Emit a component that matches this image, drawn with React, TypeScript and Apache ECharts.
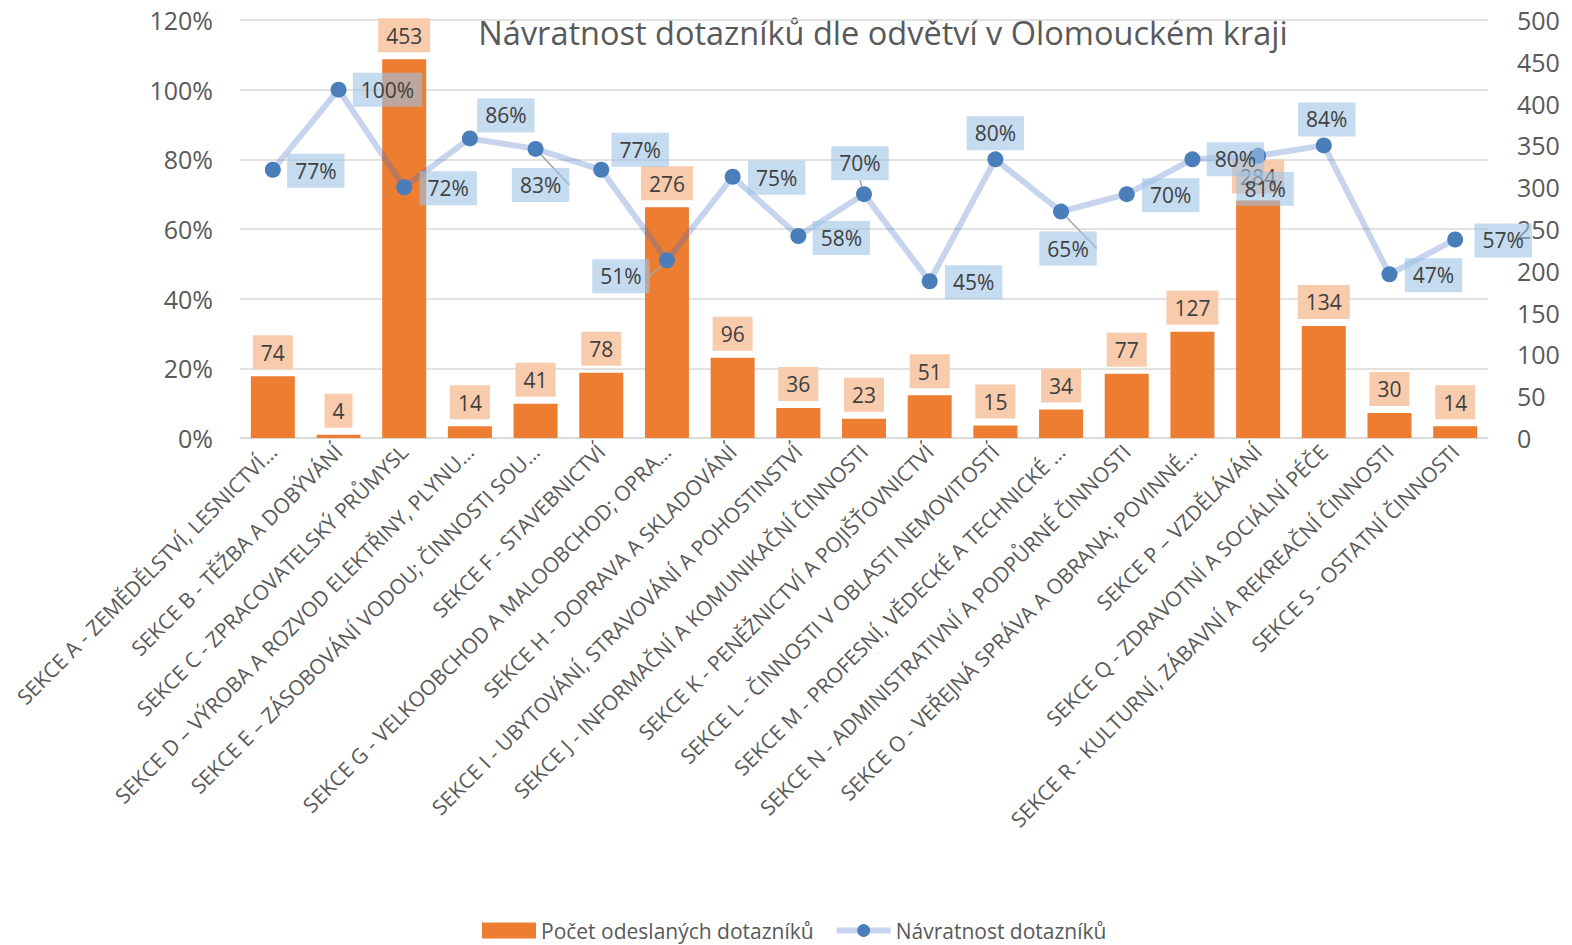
import React, { useEffect, useRef } from "react";
import * as echarts from "echarts";

const categories = [
  "SEKCE A - ZEMĚDĚLSTVÍ, LESNICTVÍ…",
  "SEKCE B - TĚŽBA A DOBÝVÁNÍ",
  "SEKCE C - ZPRACOVATELSKÝ PRŮMYSL",
  "SEKCE D – VÝROBA A ROZVOD ELEKTŘINY, PLYNU…",
  "SEKCE E – ZÁSOBOVÁNÍ VODOU; ČINNOSTI SOU…",
  "SEKCE F - STAVEBNICTVÍ",
  "SEKCE G - VELKOOBCHOD A MALOOBCHOD; OPRA…",
  "SEKCE H - DOPRAVA A SKLADOVÁNÍ",
  "SEKCE I - UBYTOVÁNÍ, STRAVOVÁNÍ A POHOSTINSTVÍ",
  "SEKCE J - INFORMAČNÍ A KOMUNIKAČNÍ ČINNOSTI",
  "SEKCE K - PENĚŽNICTVÍ A POJIŠŤOVNICTVÍ",
  "SEKCE L - ČINNOSTI V OBLASTI NEMOVITOSTÍ",
  "SEKCE M - PROFESNÍ, VĚDECKÉ A TECHNICKÉ …",
  "SEKCE N - ADMINISTRATIVNÍ A PODPŮRNÉ ČINNOSTI",
  "SEKCE O - VEŘEJNÁ SPRÁVA A OBRANA; POVINNÉ…",
  "SEKCE P – VZDĚLÁVÁNÍ",
  "SEKCE Q - ZDRAVOTNÍ A SOCIÁLNÍ PÉČE",
  "SEKCE R - KULTURNÍ, ZÁBAVNÍ A REKREAČNÍ ČINNOSTI",
  "SEKCE S - OSTATNÍ ČINNOSTI",
];

const sentCounts = [74, 4, 453, 14, 41, 78, 276, 96, 36, 23, 51, 15, 34, 77, 127, 284, 134, 30, 14];

const returnRates = [
  0.77, 1.0, 0.72, 0.86, 0.83, 0.77, 0.51, 0.75, 0.58, 0.7, 0.45, 0.8, 0.65, 0.7, 0.8, 0.81, 0.84, 0.47, 0.57,
];

const barSeriesName = "Počet odeslaných dotazníků";
const lineSeriesName = "Návratnost dotazníků";
const titleText = "Návratnost dotazníků dle odvětví v Olomouckém kraji";

// label placement styling (offset of each percentage label from its point)
const lineLabelOffsets: number[][] = [
  [43, 1], [49, 0], [44, 1], [36, -23], [5, 36], [39, -20], [-46, 16], [44, 1], [43, 2], [-4, -31],
  [44, 1], [0, -26], [7, 37], [44, 1], [43, 0], [7, 33], [3, -26], [44, 1], [48, 1],
];
const leaderLineIdx = [4, 6, 9, 12];

const FONT = "Open Sans";
const TEXT = "#595959";
const LABEL_TEXT = "#404040";
const LINE_COLOR = "rgba(68,114,196,0.3)";

export default function App() {
  const ref = useRef<HTMLDivElement>(null);

  useEffect(() => {
    document.body.style.margin = "0";
    if (!ref.current) return;
    const chart = echarts.init(ref.current, null, { renderer: "svg" });

    const lineData = returnRates.map((v, i) => ({
      value: v,
      label: { offset: lineLabelOffsets[i] },
      labelLine: { show: leaderLineIdx.includes(i) },
    }));

    chart.setOption({
      animation: false,
      backgroundColor: "#ffffff",
      textStyle: { fontFamily: FONT },
      graphic: [
        {
          type: "text",
          x: 883,
          y: 32,
          style: {
            text: titleText,
            fill: TEXT,
            font: `32.5px "${FONT}"`,
            textAlign: "center",
            textVerticalAlign: "middle",
          },
        },
      ],
      legend: {
        left: 477,
        top: 915,
        itemWidth: 54,
        itemHeight: 16,
        itemGap: 20,
        textStyle: { color: TEXT, fontSize: 21, fontFamily: FONT },
        lineStyle: { width: 6, color: LINE_COLOR },
        data: [
          { name: barSeriesName, icon: "rect" },
          { name: lineSeriesName },
        ],
      },
      grid: { left: 240, right: 84, top: 20, bottom: 507, containLabel: false },
      xAxis: {
        type: "category",
        data: categories,
        axisLine: { lineStyle: { color: "#d9d9d9", width: 1.5 } },
        axisTick: { show: false },
        axisLabel: {
          interval: 0,
          rotate: 45,
          margin: 10,
          color: TEXT,
          fontSize: 21,
          fontFamily: FONT,
        },
      },
      yAxis: [
        {
          type: "value",
          min: 0,
          max: 1.2,
          interval: 0.2,
          axisLine: { show: false },
          axisTick: { show: false },
          splitLine: { lineStyle: { color: "#d9d9d9", width: 1.5 } },
          axisLabel: {
            margin: 27,
            color: TEXT,
            fontSize: 25,
            fontFamily: FONT,
            formatter: (v: number) => Math.round(v * 100) + "%",
          },
        },
        {
          type: "value",
          min: 0,
          max: 500,
          interval: 50,
          axisLine: { show: false },
          axisTick: { show: false },
          splitLine: { show: false },
          axisLabel: {
            margin: 29,
            color: TEXT,
            fontSize: 25,
            fontFamily: FONT,
          },
        },
      ],
      series: [
        {
          name: barSeriesName,
          type: "bar",
          yAxisIndex: 1,
          data: sentCounts,
          barWidth: 44,
          z: 2,
          itemStyle: { color: "#ed7d31" },
          label: {
            show: true,
            position: "top",
            distance: 7,
            color: LABEL_TEXT,
            fontSize: 21,
            fontFamily: FONT,
            backgroundColor: "#f8cbad",
            padding: [7, 8, 6, 8],
          },
        },
        {
          name: lineSeriesName,
          type: "line",
          yAxisIndex: 0,
          data: lineData,
          z: 3,
          symbol: "circle",
          symbolSize: 16,
          itemStyle: { color: "#4a7ebb" },
          lineStyle: { color: LINE_COLOR, width: 6 },
          label: {
            show: true,
            position: "inside",
            color: LABEL_TEXT,
            fontSize: 21,
            fontFamily: FONT,
            backgroundColor: "rgba(157,195,230,0.6)",
            padding: [7, 8, 6, 8],
            formatter: (p: any) => Math.round(p.value * 100) + "%",
          },
          labelLine: {
            show: false,
            lineStyle: { color: "#a6a6a6", width: 1.5 },
          },
        },
      ],
    });

    return () => {
      chart.dispose();
    };
  }, []);

  return <div ref={ref} style={{ width: 1572, height: 945 }} />;
}
